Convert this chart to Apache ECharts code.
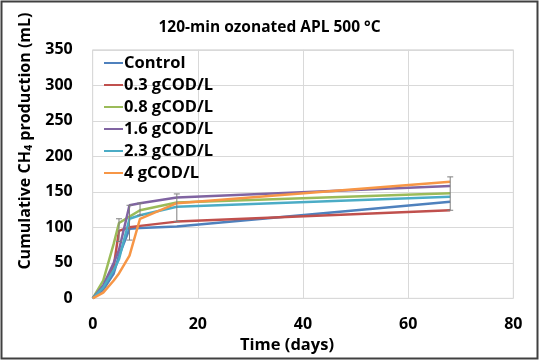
<!DOCTYPE html>
<html>
<head>
<meta charset="utf-8">
<script src="https://cdn.jsdelivr.net/npm/echarts@6/dist/echarts.min.js"></script>
<style>
html,body{margin:0;padding:0;background:#fff;}
#c{width:539px;height:360px;}
</style>
</head>
<body>
<div id="c"></div>
<script>
var days = [0, 2, 4, 5, 7, 9, 16, 68];
var seriesNames = ['Control', '0.3 gCOD/L', '0.8 gCOD/L', '1.6 gCOD/L', '2.3 gCOD/L', '4 gCOD/L'];
var control = [0, 12, 35, 60, 98, 99, 101, 136];
var cod03 = [0, 15, 45, 95, 100, 102, 108, 124];
var cod08 = [0, 25, 77, 106, 115, 124, 135, 148];
var cod16 = [0, 18, 50, 68, 131, 134, 142, 158];
var cod23 = [0, 15, 40, 55, 112, 117, 129, 143];
var cod4 = [0, 8, 25, 35, 60, 112, 134, 164];
// error bar ranges [day, low, high]
var errDays = [5, 7, 9, 16, 68];
var errLow = [80, 82, 117, 108, 124];
var errHigh = [112, 131, 134, 147, 171];
var yTicks = [0, 50, 100, 150, 200, 250, 300, 350];
var xTicks = [0, 20, 40, 60, 80];

var colors = ['#4F81BD', '#C0504D', '#9BBB59', '#8064A2', '#4BACC6', '#F79646'];
var values = [control, cod03, cod08, cod16, cod23, cod4];
var font = '"Open Sans", sans-serif';

var series = values.map(function (v, i) {
  return {
    name: seriesNames[i],
    type: 'line',
    data: days.map(function (d, j) { return [d, v[j]]; }),
    symbol: 'none',
    lineStyle: { width: 2.5, color: colors[i] },
    itemStyle: { color: colors[i] },
    z: 3
  };
});

series.push({
  type: 'custom',
  name: 'err',
  data: errDays.map(function (d, i) { return [d, errLow[i], errHigh[i]]; }),
  renderItem: function (params, api) {
    var lo = api.coord([api.value(0), api.value(1)]);
    var hi = api.coord([api.value(0), api.value(2)]);
    var w = 3;
    var st = { stroke: '#7f7f7f', lineWidth: 1 };
    return {
      type: 'group',
      children: [
        { type: 'line', shape: { x1: lo[0], y1: lo[1], x2: hi[0], y2: hi[1] }, style: st },
        { type: 'line', shape: { x1: lo[0] - w, y1: lo[1], x2: lo[0] + w, y2: lo[1] }, style: st },
        { type: 'line', shape: { x1: hi[0] - w, y1: hi[1], x2: hi[0] + w, y2: hi[1] }, style: st }
      ]
    };
  },
  z: 4
});

var chart = echarts.init(document.getElementById('c'), null, { renderer: 'canvas' });
chart.setOption({
  animation: false,
  backgroundColor: '#fff',
  color: colors,
  title: {
    text: '120-min ozonated APL 500 °C',
    left: 'center',
    top: 15,
    textStyle: { fontFamily: font, fontWeight: 'bold', fontSize: 15.5, color: '#000' }
  },
  graphic: [{
    type: 'rect',
    shape: { x: 1.5, y: 1.5, width: 536, height: 357 },
    style: { fill: 'none', stroke: '#404040', lineWidth: 2 },
    z: 100
  }],
  legend: {
    data: seriesNames,
    orient: 'vertical',
    left: 99,
    top: 49.5,
    icon: 'rect',
    itemWidth: 19,
    itemHeight: 2,
    itemGap: 5,
    textStyle: { fontFamily: font, fontWeight: 'bold', fontSize: 16.5, color: '#000', padding: [0, 0, 0, -4] }
  },
  grid: { left: 92.7, right: 25.7, top: 49.8, bottom: 61.7, show: true, borderColor: '#d9d9d9', borderWidth: 1 },
  xAxis: {
    type: 'value',
    min: 0, max: 80, interval: 20,
    name: 'Time (days)',
    nameLocation: 'middle',
    nameGap: 37,
    nameTextStyle: { fontFamily: font, fontWeight: 'bold', fontSize: 16.5, color: '#000', padding: [0, 32, 0, 0] },
    axisLine: { show: false },
    axisTick: { show: false },
    axisLabel: { margin: 18, fontFamily: font, fontWeight: 'bold', fontSize: 16, color: '#000',
      formatter: function (v) { return xTicks.indexOf(v) >= 0 ? String(v) : ''; } },
    splitLine: { show: true, lineStyle: { color: '#d9d9d9', width: 1 } }
  },
  yAxis: {
    type: 'value',
    min: 0, max: 350, interval: 50,
    name: '{a|Cumulative CH}{s|4}{a| production (mL)}',
    nameLocation: 'middle',
    nameRotate: 90,
    nameGap: 57,
    nameTextStyle: {
      fontFamily: font, fontWeight: 'bold', fontSize: 16, color: '#000',
      padding: [0, 0, 0, 66],
      rich: {
        a: { fontFamily: font, fontWeight: 'bold', fontSize: 16, color: '#000' },
        s: { fontFamily: font, fontWeight: 'bold', fontSize: 11, color: '#000', verticalAlign: 'bottom', padding: [7, 0, 0, 0] }
      }
    },
    axisLine: { show: false },
    axisTick: { show: false },
    axisLabel: { margin: 20, fontFamily: font, fontWeight: 'bold', fontSize: 16, color: '#000',
      formatter: function (v) { return yTicks.indexOf(v) >= 0 ? String(v) : ''; } },
    splitLine: { show: true, lineStyle: { color: '#d9d9d9', width: 1 } }
  },
  series: series
});
</script>
</body>
</html>
